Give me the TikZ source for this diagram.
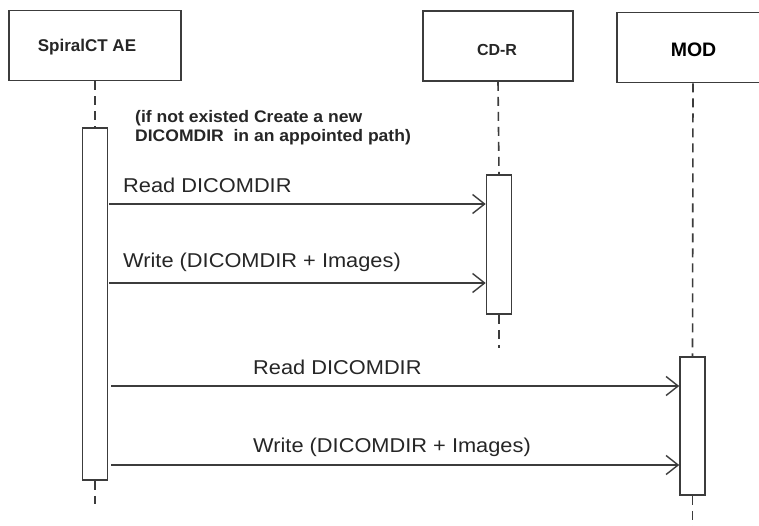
\documentclass[tikz,border=0pt]{standalone}
\usepackage{fontspec}
\setmainfont{Liberation Sans}
\newfontfamily\msgfont[FakeStretch=1.09]{Liberation Sans}
\newfontfamily\notefont[FakeStretch=1.05]{Liberation Sans Bold}
\newfontfamily\headfont{Liberation Sans Bold}
\usetikzlibrary{arrows.meta}
\definecolor{ink}{HTML}{3C3C3C}
\tikzset{
  actor/.style={draw=ink, line width=1.6pt, fill=white, minimum height=70pt, inner sep=0pt},
  activation/.style={draw=ink, line width=1.6pt, fill=white, minimum width=25pt, inner sep=0pt},
  lifeline/.style={draw=ink, line width=1.6pt, dash pattern=on 9pt off 6pt},
  msg/.style={draw=ink, line width=1.6pt, -{Straight Barb[length=12pt,width=19pt,line width=1.4pt]}},
  msglabel/.style={anchor=base west, inner sep=0pt, text=black!85, font=\msgfont\fontsize{20}{24}\selectfont},
  notelabel/.style={anchor=base west, inner sep=0pt, text=black!85, align=left, font=\notefont\fontsize{16.7}{19}\selectfont},
}
\begin{document}
\begin{tikzpicture}[x=1pt, y=-1pt]
  \useasboundingbox (0,0) rectangle (759,525);
  \clip (0,0) rectangle (759,525);
  \fill[white] (0,0) rectangle (759,525);

  % participants
  \node[actor, minimum width=172pt] (spiral) at (95,45.5) {};
  \node[actor, minimum width=150pt] (cdr) at (498,46) {};
  \node[actor, minimum width=152pt] (mod) at (693,47.5) {};
  \node[anchor=base, inner sep=0pt, font=\headfont\fontsize{17}{20}\selectfont, text=black!85] (spiralT) at (87,51) {SpiralCT AE};
  \node[anchor=base, inner sep=0pt, font=\headfont\fontsize{16}{19}\selectfont, text=black!85] (cdrT) at (497,55) {CD-R};
  \node[anchor=base, inner sep=0pt, font=\headfont\fontsize{19.5}{22}\selectfont, text=black] (modT) at (693.5,56) {MOD};

  % activation bars
  \node[activation, minimum height=352pt] (spiralA) at (95,304) {};
  \node[activation, minimum height=139pt] (cdrA) at (499,244.5) {};
  \node[activation, minimum height=138pt] (modA) at (692.5,426) {};

  % lifeline ends
  \coordinate (spiralEnd) at (95,504);
  \coordinate (cdrEnd) at (499,348);
  \coordinate (modEnd) at (692.5,526);

  % lifelines
  \draw[lifeline] (spiral.south) -- (spiralA.north);
  \draw[lifeline] (spiralA.south) -- (spiralEnd);
  \draw[lifeline] (cdr.south) -- (cdrA.north);
  \draw[lifeline] (cdrA.south) -- (cdrEnd);
  \draw[lifeline] (mod.south) -- (modA.north);
  \draw[lifeline] (modA.south) -- (modEnd);

  % message heights
  \coordinate (m1) at (0,204);
  \coordinate (m2) at (0,283);
  \coordinate (m3) at (0,386);
  \coordinate (m4) at (0,465);

  % messages
  \draw[msg] ([xshift=1pt]spiralA.east |- m1) -- (cdrA.west |- m1);
  \draw[msg] ([xshift=1pt]spiralA.east |- m2) -- (cdrA.west |- m2);
  \draw[msg] ([xshift=3pt]spiralA.east |- m3) -- (modA.west |- m3);
  \draw[msg] ([xshift=3pt]spiralA.east |- m4) -- (modA.west |- m4);

  % labels
  \node[notelabel] (note) at (135,141) {(if not existed Create a new\\DICOMDIR\ \ in an appointed path)};
  \node[msglabel] (l1) at (123,192) {Read DICOMDIR};
  \node[msglabel] (l2) at (123,267) {Write (DICOMDIR + Images)};
  \node[msglabel] (l3) at (253,374) {Read DICOMDIR};
  \node[msglabel] (l4) at (253,452) {Write (DICOMDIR + Images)};
\end{tikzpicture}
\end{document}
